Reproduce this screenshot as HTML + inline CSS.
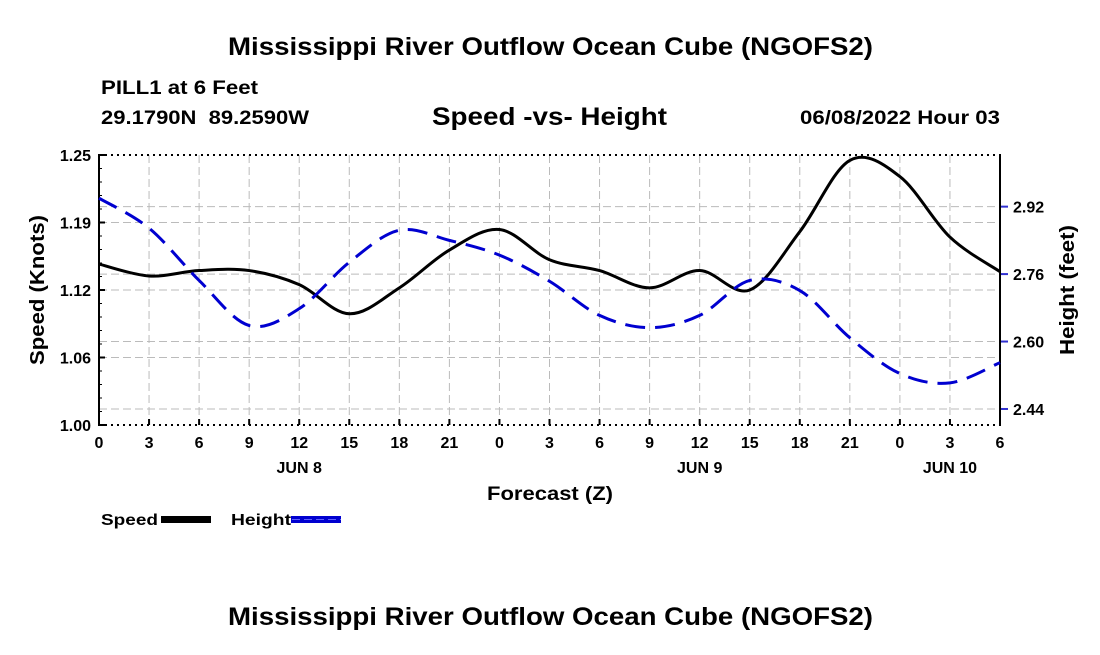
<!DOCTYPE html>
<html><head><meta charset="utf-8"><style>
body{margin:0;background:#fff;width:1100px;height:650px;overflow:hidden;font-family:"Liberation Sans",sans-serif}
svg text{font-family:"Liberation Sans",sans-serif;font-weight:bold}
</style></head><body>
<svg id="chart" width="1100" height="650" xmlns="http://www.w3.org/2000/svg">
<text x="228" y="55" font-size="25" textLength="645" lengthAdjust="spacingAndGlyphs">Mississippi River Outflow Ocean Cube (NGOFS2)</text>
<text x="101" y="94" font-size="19" textLength="157" lengthAdjust="spacingAndGlyphs">PILL1 at 6 Feet</text>
<text x="101" y="124" font-size="19" textLength="208" lengthAdjust="spacingAndGlyphs" xml:space="preserve">29.1790N  89.2590W</text>
<text x="432" y="125" font-size="25" textLength="235" lengthAdjust="spacingAndGlyphs">Speed -vs- Height</text>
<text x="800" y="124" font-size="19" textLength="200" lengthAdjust="spacingAndGlyphs">06/08/2022 Hour 03</text>
<g id="grid"></g>
<g id="axes"></g>
<g id="series"></g>
<text x="487" y="500" font-size="19" textLength="126" lengthAdjust="spacingAndGlyphs">Forecast (Z)</text>
<text transform="translate(44,290) rotate(-90)" text-anchor="middle" font-size="20" textLength="150" lengthAdjust="spacingAndGlyphs">Speed (Knots)</text>
<text transform="translate(1074,290) rotate(-90)" text-anchor="middle" font-size="20" textLength="130" lengthAdjust="spacingAndGlyphs">Height (feet)</text>
<g><text x="101" y="525" font-size="16" textLength="57" lengthAdjust="spacingAndGlyphs">Speed</text><rect x="161" y="516" width="50" height="7" fill="#000"/></g>
<g><text x="231" y="525" font-size="16" textLength="60" lengthAdjust="spacingAndGlyphs">Height</text><rect x="291" y="516" width="50" height="7" fill="#0000d0"/><line x1="292" y1="519.5" x2="341" y2="519.5" stroke="#6060ff" stroke-width="1" stroke-dasharray="8,4"/></g>
<text x="228" y="625" font-size="25" textLength="645" lengthAdjust="spacingAndGlyphs">Mississippi River Outflow Ocean Cube (NGOFS2)</text>
</svg>
<script>
const hours=[0,3,6,9,12,15,18,21,24,27,30,33,36,39,42,45,48,51,54];
const xTickLabels=["0","3","6","9","12","15","18","21","0","3","6","9","12","15","18","21","0","3","6"];
const speed=[1.149,1.138,1.143,1.143,1.130,1.103,1.127,1.162,1.181,1.153,1.143,1.127,1.143,1.125,1.179,1.245,1.230,1.174,1.142];
const height=[2.940,2.869,2.745,2.638,2.678,2.788,2.864,2.840,2.805,2.743,2.662,2.633,2.662,2.745,2.721,2.609,2.524,2.502,2.550];
const leftTicks=[1.0,1.0625,1.125,1.1875,1.25];
const leftTickLabels=["1.00","1.06","1.12","1.19","1.25"];
const rightTicks=[2.44,2.60,2.76,2.92];
const dayLabels=[{h:12,t:"JUN 8"},{h:36,t:"JUN 9"},{h:51,t:"JUN 10"}];
const PL=99,PR=1000,PT=155,PB=425;
const xs=h=>PL+(h-0)/54*(PR-PL);
const yL=v=>PB-(v-1.0)/0.25*(PB-PT);
const yR=v=>PB-(v-2.402)/(3.0425-2.402)*(PB-PT);
const NS="http://www.w3.org/2000/svg";
function mk(tag,attrs,parent){const e=document.createElementNS(NS,tag);for(const k in attrs)e.setAttribute(k,attrs[k]);parent.appendChild(e);return e;}
const grid=document.getElementById('grid'),axes=document.getElementById('axes'),ser=document.getElementById('series');
hours.forEach((h,i)=>{
 if(i>0&&i<hours.length-1){const g=mk('line',{x1:xs(h),x2:xs(h),y1:PT,y2:PB,stroke:'#bbb','stroke-dasharray':'8,4'},grid);
 
 }
 const tk=mk('line',{x1:xs(h),x2:xs(h),y1:PB,y2:PB-6,stroke:'#000','stroke-width':2},axes);
 
 
 const t=mk('text',{x:xs(h),y:PB+23,'text-anchor':'middle','font-size':16},axes);t.textContent=xTickLabels[i];
 
 
});
dayLabels.forEach(d=>{const t=mk('text',{x:xs(d.h),y:PB+48,'text-anchor':'middle','font-size':16},axes);t.textContent=d.t;
 
 });
leftTicks.forEach((v,i)=>{
 if(i>0&&i<leftTicks.length-1){const g=mk('line',{x1:PL,x2:PR,y1:yL(v),y2:yL(v),stroke:'#bbb','stroke-dasharray':'8,4'},grid);
 
 }
 const t=mk('text',{x:PL-8,y:yL(v)+6,'text-anchor':'end','font-size':16},axes);t.textContent=leftTickLabels[i];
 
 
 mk('line',{x1:PL,x2:PL+6,y1:yL(v),y2:yL(v),stroke:'#000','stroke-width':2},axes);
});
for(let v=1.0;v<=1.25;v+=0.0125){mk('line',{x1:PL,x2:PL+3,y1:yL(v),y2:yL(v),stroke:'#000'},axes);}
rightTicks.forEach(v=>{
 const g=mk('line',{x1:PL,x2:PR,y1:yR(v),y2:yR(v),stroke:'#bbb','stroke-dasharray':'8,4'},grid);
 
 
 mk('line',{x1:PR,x2:PR+8,y1:yR(v),y2:yR(v),stroke:'#3030d0','stroke-width':2},axes);
 const t=mk('text',{x:PR+13,y:yR(v)+6,'font-size':16},axes);t.textContent=v.toFixed(2);
 
 
});
mk('line',{x1:PL,x2:PR,y1:PT,y2:PT,stroke:'#000','stroke-width':2,'stroke-dasharray':'2,4'},axes);
mk('line',{x1:PL,x2:PR,y1:PB,y2:PB,stroke:'#000','stroke-width':2,'stroke-dasharray':'2,4'},axes);
mk('line',{x1:PL,x2:PL,y1:PT-1,y2:PB+1,stroke:'#000','stroke-width':2},axes);
mk('line',{x1:PR,x2:PR,y1:PT-1,y2:PB+1,stroke:'#000','stroke-width':2},axes);
function smooth(pts){let d=`M${pts[0][0]},${pts[0][1]}`;
 for(let i=0;i<pts.length-1;i++){const p0=pts[i-1]||pts[i],p1=pts[i],p2=pts[i+1],p3=pts[i+2]||p2;
 d+=` C${p1[0]+(p2[0]-p0[0])/6},${p1[1]+(p2[1]-p0[1])/6} ${p2[0]-(p3[0]-p1[0])/6},${p2[1]-(p3[1]-p1[1])/6} ${p2[0]},${p2[1]}`;}
 return d;}
const sp=mk('path',{d:smooth(hours.map((h,i)=>[xs(h),yL(speed[i])])),fill:'none',stroke:'#000','stroke-width':3},ser);


const hp=mk('path',{d:smooth(hours.map((h,i)=>[xs(h),yR(height[i])])),fill:'none',stroke:'#0000d0','stroke-width':3,'stroke-dasharray':'20,10'},ser);


</script>
</body></html>
